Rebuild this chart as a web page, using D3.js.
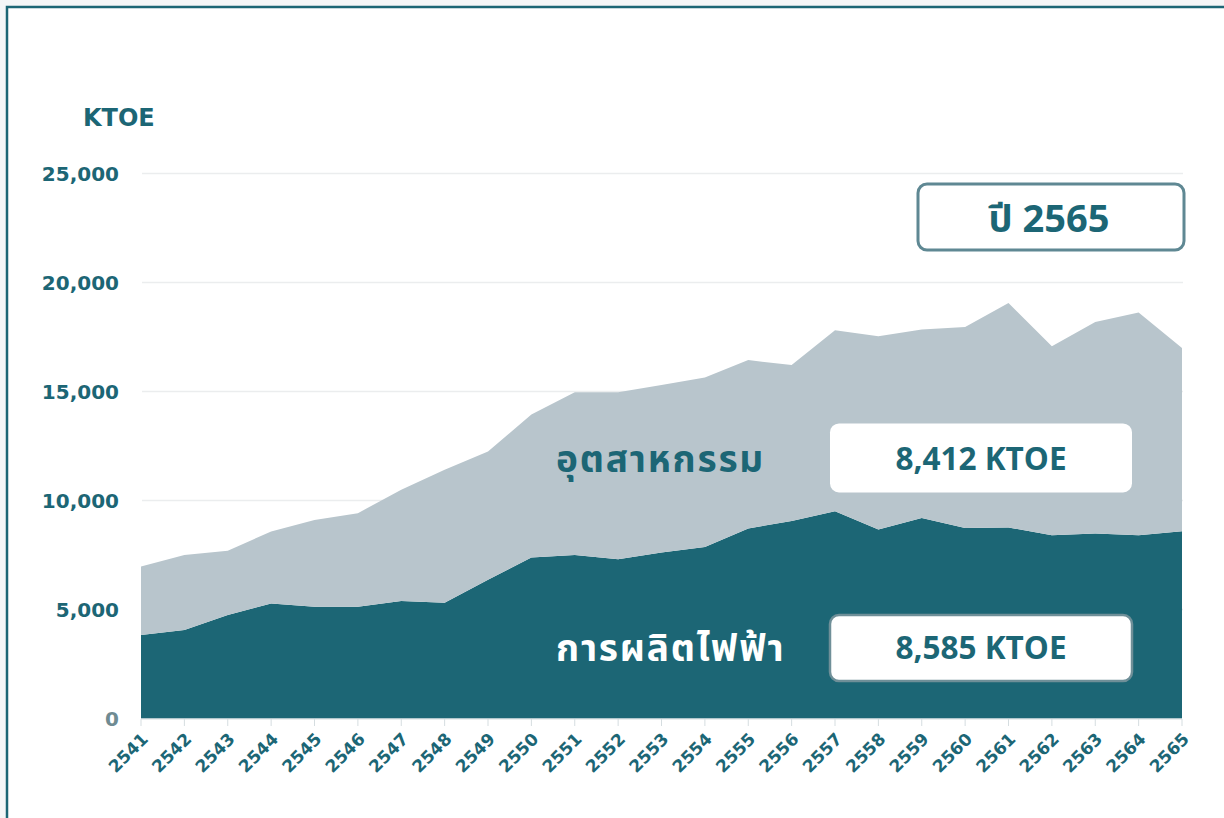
<!DOCTYPE html>
<html>
<head>
<meta charset="utf-8">
<script src="https://cdn.jsdelivr.net/npm/d3@7"></script>
<style>
  html, body { margin: 0; padding: 0; background: #f4f6f7; }
  svg { display: block; }
</style>
</head>
<body>
<div id="chart"></div>
<script>
// years (Thai Buddhist calendar)
var years = [2541, 2542, 2543, 2544, 2545, 2546, 2547, 2548, 2549, 2550, 2551, 2552, 2553,
             2554, 2555, 2556, 2557, 2558, 2559, 2560, 2561, 2562, 2563, 2564, 2565];

// electricity generation (KTOE) - bottom layer
var power = [3830, 4060, 4750, 5280, 5130, 5130, 5390, 5310, 6360, 7380, 7500, 7300, 7610,
             7870, 8720, 9060, 9510, 8670, 9200, 8740, 8760, 8410, 8490, 8410, 8585];

// industry (KTOE) - top layer
var industry = [3140, 3440, 2940, 3300, 3980, 4290, 5100, 6100, 5890, 6560, 7460, 7660, 7690,
                7770, 7720, 7150, 8300, 8870, 8640, 9220, 10300, 8670, 9700, 10210, 8412];

var yTicks = [0, 5000, 10000, 15000, 20000, 25000];
var seriesNames = ["การผลิตไฟฟ้า", "อุตสาหกรรม"];
var latestLabel = "ปี 2565";
var unitLabel = "KTOE";

var W = 1224, H = 818;
var teal = "#1c6675";
var grey = "#b8c5cc";
var numFont = "'DejaVu Sans', Verdana, sans-serif";
var thaiFont = "'Noto Sans Thai', 'Noto Sans', 'DejaVu Sans', sans-serif";
var boxFont = "'Open Sans', 'Noto Sans', sans-serif";

var svg = d3.select("#chart").append("svg")
    .attr("width", W)
    .attr("height", H);

// frame
svg.append("rect").attr("x", 0).attr("y", 0).attr("width", W).attr("height", H).attr("fill", "#f4f6f7");
svg.append("rect").attr("x", 7).attr("y", 7).attr("width", W).attr("height", H)
    .attr("fill", "#fff").attr("stroke", teal).attr("stroke-width", 2.5);

var x = d3.scaleLinear().domain([years[0], years[years.length - 1]]).range([141, 1182]);
var y = d3.scaleLinear().domain([0, 25000]).range([718.5, 173.5]);

// grid
svg.append("g").selectAll("line").data(yTicks.slice(1)).join("line")
    .attr("x1", 142).attr("x2", 1183)
    .attr("y1", function(d) { return y(d); })
    .attr("y2", function(d) { return y(d); })
    .attr("stroke", "#ebedee").attr("stroke-width", 1.5);

// stacked areas
var rows = years.map(function(yr, i) { return { year: yr, power: power[i], industry: industry[i] }; });
var stack = d3.stack().keys(["power", "industry"])(rows);
var area = d3.area()
    .x(function(d) { return x(d.data.year); })
    .y0(function(d) { return y(d[0]); })
    .y1(function(d) { return y(d[1]); });

svg.append("g").selectAll("path").data(stack).join("path")
    .attr("d", area)
    .attr("fill", function(d, i) { return i == 0 ? teal : grey; });

// y axis labels
svg.append("g").selectAll("text").data(yTicks).join("text")
    .attr("x", 119)
    .attr("y", function(d) { return y(d); })
    .attr("dy", "0.36em")
    .attr("text-anchor", "end")
    .attr("font-family", numFont)
    .attr("font-weight", "bold")
    .attr("font-size", 20)
    .attr("fill", function(d) { return d == 0 ? "#6f8b92" : teal; })
    .text(function(d) { return d3.format(",")(d); });

svg.append("text")
    .attr("x", 83).attr("y", 126)
    .attr("font-family", numFont).attr("font-weight", "bold").attr("font-size", 24)
    .attr("fill", teal)
    .text(unitLabel);

// x axis
var xAxis = svg.append("g");
xAxis.append("line").attr("x1", 141).attr("x2", 1182).attr("y1", 719).attr("y2", 719)
    .attr("stroke", "#d5dde0").attr("stroke-width", 1);
xAxis.selectAll("line.tick").data(years).join("line")
    .attr("class", "tick")
    .attr("x1", function(d) { return x(d); }).attr("x2", function(d) { return x(d); })
    .attr("y1", 719).attr("y2", 726)
    .attr("stroke", "#d5dde0").attr("stroke-width", 1);
xAxis.selectAll("text").data(years).join("text")
    .attr("transform", function(d) { return "translate(" + (x(d) + 4) + ",736) rotate(-45)"; })
    .attr("text-anchor", "end")
    .attr("dy", "0.35em")
    .attr("font-family", numFont).attr("font-weight", "bold").attr("font-size", 17)
    .attr("fill", teal)
    .text(function(d) { return d; });

// year badge
svg.append("rect")
    .attr("x", 918).attr("y", 184).attr("width", 266).attr("height", 66).attr("rx", 9)
    .attr("fill", "#fff").attr("stroke", "#5f8893").attr("stroke-width", 3);
svg.append("text")
    .attr("x", 1049).attr("y", 218).attr("dy", "0.36em")
    .attr("text-anchor", "middle")
    .attr("font-family", thaiFont).attr("font-weight", "bold").attr("font-size", 38)
    .attr("fill", teal)
    .text(latestLabel);

// series labels with latest values
var last = years.length - 1;
var labelY = [y(3230), y(11930)];
var lastValues = [power[last], industry[last]];

svg.append("g").selectAll("rect").data(labelY).join("rect")
    .attr("x", 830).attr("y", function(d, i) { return i == 0 ? d - 33 : d - 35; })
    .attr("width", 302).attr("height", function(d, i) { return i == 0 ? 66 : 69; }).attr("rx", 9)
    .attr("fill", "#fff")
    .attr("stroke", function(d, i) { return i == 0 ? "#6f8f98" : "none"; })
    .attr("stroke-width", 2.5);

svg.append("g").selectAll("text").data(labelY).join("text")
    .attr("x", 981).attr("y", function(d) { return d; }).attr("dy", "0.36em")
    .attr("text-anchor", "middle")
    .attr("font-family", boxFont).attr("font-weight", "bold").attr("font-size", 31.5)
    .attr("fill", teal)
    .text(function(d, i) { return d3.format(",")(lastValues[i]) + " " + unitLabel; });

svg.append("g").selectAll("text.series").data(labelY).join("text")
    .attr("class", "series")
    .attr("x", 556).attr("y", function(d) { return d; }).attr("dy", "0.36em")
    .attr("font-family", thaiFont).attr("font-weight", "bold").attr("font-size", 37)
    .attr("letter-spacing", 1.8)
    .attr("fill", function(d, i) { return i == 0 ? "#fff" : teal; })
    .text(function(d, i) { return seriesNames[i]; });
</script>
</body>
</html>
